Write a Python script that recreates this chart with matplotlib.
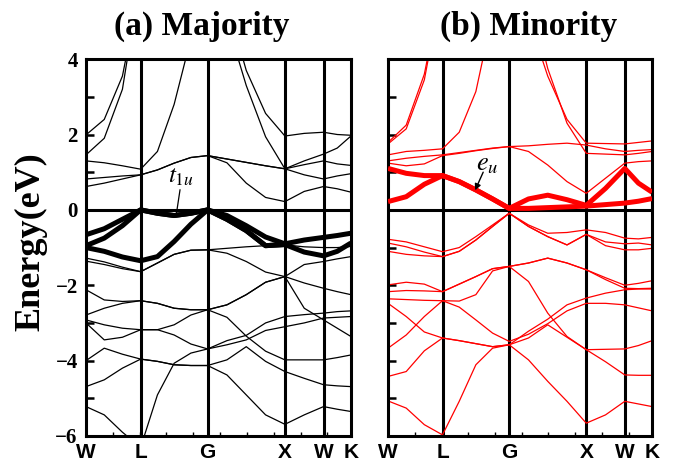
import numpy as np
import matplotlib
matplotlib.use('Agg')
import matplotlib.pyplot as plt

plt.rcParams['font.family'] = ['Liberation Serif', 'DejaVu Serif']
plt.rcParams['mathtext.fontset'] = 'stix'

nan = np.nan

# distance along the k-path of each sampled point
k = [0, 0.236, 0.471, 0.707, 0.924, 1.140, 1.357, 1.573,
     1.823, 2.073, 2.323, 2.573, 2.823, 3.073, 3.25, 3.427]
sym_k = [0, 0.707, 1.573, 2.573, 3.073, 3.427]
sym_labels = ['W', 'L', 'G', 'X', 'W', 'K']

# ---- majority spin (eV) ----
maj_u1 = [1.99, 2.4, 3.55, 6.0, 7, 7, 7, 7, 7, 7, 7, 7, 7, 7, 7, 7]
maj_u2 = [1.46, 1.9, 3.2, 6.2, 7, 7, 7, 7, 5.5, 3.7, 2.56, 1.96, 2.03, 2.06, 2.0, 1.98]
maj_u3 = [1.3, 1.25, 1.17, 1.08, 1.55, 2.8, 4.55, 7, 5.0, 3.3, 1.94, 1.09, 0.93, 0.82, 0.9, 0.96]
maj_p = [0.82, 0.86, 0.9, 0.93, 1.06, 1.24, 1.39, 1.44, 1.35, 1.26, 1.17, 1.09, 1.3, 1.48, 1.64, 1.96]
maj_q = [0.62, 0.71, 0.82, 0.93, 1.06, 1.24, 1.39, 1.44, 1.25, 0.71, 0.33, 0.22, 0.49, 0.62, 0.56, 0.47]
maj_r = [nan, nan, nan, nan, nan, nan, nan, 1.44, 1.35, 1.26, 1.17, 1.09, 1.2, 1.3, 1.22, 1.18]
maj_m1 = [-1.28, -1.38, -1.52, -1.64, -1.41, -1.18, -1.07, -1.06, -1.02, -0.98, -0.95, -0.93, -0.98, -1.0, -1.0, -0.97]
maj_m2 = [-1.36, -1.45, -1.56, -1.64, -1.41, -1.18, -1.07, -1.06, -1.15, -1.37, -1.65, -1.77, -1.45, -1.37, -1.3, -1.24]
maj_n1 = [-2.12, -2.39, -2.43, -2.41, -2.48, -2.61, -2.65, -2.65, -2.52, -2.25, -1.92, -1.77, -1.94, -2.08, -2.17, -2.25]
maj_n2 = [-2.79, -2.61, -2.48, -2.41, -2.48, -2.61, -2.65, -2.65, -2.85, -3.35, -3.75, -3.98, -3.98, -3.98, -3.92, -3.85]
maj_n3 = [-2.92, -3.05, -3.14, -3.18, -3.18, -3.05, -2.79, -2.65, -2.52, -2.25, -1.92, -1.77, -2.61, -2.92, -3.14, -3.36]
maj_n4 = [-3.0, -3.45, -3.38, -3.18, -3.18, -3.32, -3.56, -3.69, -3.47, -3.33, -3.0, -2.83, -2.78, -2.74, -2.7, -2.68]
maj_n5 = [-4.0, -3.67, -3.83, -3.96, -4.02, -4.11, -4.13, -4.13, -3.98, -3.63, -4.02, -4.29, -4.47, -4.64, -4.67, -4.69]
maj_n6 = [-4.69, -4.51, -4.2, -3.96, -4.02, -4.11, -4.13, -4.13, -4.38, -4.91, -5.44, -5.69, -5.44, -5.22, -5.29, -5.35]
maj_n7 = [-5.22, -5.44, -5.9, -6.3, -4.91, -4.07, -3.8, -3.69, -3.58, -3.45, -3.2, -3.1, -3.0, -2.87, -2.85, -2.83]
# t1u bands (thick)
maj_t1 = [-0.66, -0.5, -0.25, 0, -0.09, -0.15, -0.09, 0, -0.15, -0.42, -0.72, -0.9, -0.8, -0.73, -0.68, -0.62]
maj_t2 = [-0.95, -0.75, -0.42, 0, -0.09, -0.15, -0.09, 0, -0.25, -0.55, -0.95, -0.92, -1.12, -1.22, -1.1, -0.88]
maj_t3 = [-1.0, -1.1, -1.25, -1.35, -1.24, -0.84, -0.38, 0, -0.25, -0.55, -0.95, -0.92, nan, nan, nan, nan]

# ---- minority spin (eV) ----
min_v1 = [1.79, 2.25, 3.6, 6.0, 7, 7, 7, 7, 5.1, 3.55, 2.4, 1.77, 1.76, 1.75, 1.79, 1.83]
min_v2 = [1.75, 2.15, 3.45, 6.0, 7, 7, 7, 7, 5.8, 3.75, 2.3, 1.5, 1.48, 1.46, 1.5, 1.55]
min_v3 = [1.46, 1.55, 1.58, 1.62, 2.06, 3.14, 5.2, 7, 7, 7, 7, 7, 7, 7, 7, 7]
min_v4 = [1.3, 1.37, 1.42, 1.46, 1.52, 1.58, 1.64, 1.68, 1.7, 1.74, 1.77, 1.72, 1.62, 1.55, 1.58, 1.6]
min_v5 = [1.24, 1.17, 1.22, 1.44, 1.5, 1.57, 1.63, 1.68, 1.55, 1.19, 0.75, 0.44, 0.84, 1.24, 1.28, 1.3]
min_r1 = [-0.78, -0.85, -0.98, -1.11, -1.0, -0.71, -0.4, -0.09, -0.4, -0.62, -0.6, -0.53, -0.6, -0.75, -0.77, -0.73]
min_r2 = [-0.88, -0.98, -1.12, -1.24, -1.1, -0.8, -0.44, -0.09, -0.44, -0.71, -0.93, -0.65, -0.85, -0.9, -0.88, -0.93]
min_r3 = [-1.1, -1.18, -1.22, -1.24, -1.1, -0.8, -0.44, -0.09, -0.44, -0.71, -0.93, -0.65, -0.95, -1.06, -1.06, -1.02]
min_s1 = [-1.99, -1.92, -1.97, -2.17, -1.97, -1.77, -1.56, -1.5, -1.41, -1.28, -1.41, -1.59, -1.8, -2.0, -1.95, -1.88]
min_s2 = [-2.17, -2.14, -2.15, -2.17, -1.97, -1.77, -1.56, -1.5, -1.9, -2.74, -3.36, -3.71, -3.7, -3.69, -3.6, -3.47]
min_s3 = [-2.36, -2.38, -2.4, -2.41, -2.42, -2.25, -1.62, -1.5, -1.41, -1.28, -1.41, -1.59, -1.85, -2.08, -2.09, -2.08]
min_s4 = [-2.48, -2.83, -3.24, -3.4, -3.47, -3.55, -3.63, -3.58, -3.22, -2.9, -2.52, -2.34, -2.21, -2.12, -2.1, -2.1]
min_s5 = [-3.67, -3.32, -2.83, -2.41, -2.58, -2.92, -3.27, -3.49, -3.3, -3.02, -2.68, -2.48, -2.48, -2.52, -2.6, -2.68]
min_s6 = [-4.42, -4.29, -3.74, -3.4, -3.47, -3.55, -3.63, -3.58, -3.4, -3.05, -3.38, -3.71, -4.03, -4.38, -4.39, -4.39]
min_s7 = [-5.07, -5.26, -5.7, -5.97, -5.08, -4.11, -3.67, -3.58, -3.98, -4.55, -5.08, -5.66, -5.44, -5.08, -5.15, -5.22]
# eu bands (thick)
min_e1 = [1.1, 0.97, 0.91, 0.91, 0.75, 0.53, 0.29, 0.04, 0.29, 0.39, 0.27, 0.12, 0.57, 1.1, 0.71, 0.47]
min_e2 = [0.22, 0.35, 0.68, 0.91, 0.75, 0.53, 0.29, 0.04, 0.04, 0.06, 0.08, 0.1, 0.14, 0.18, 0.23, 0.3]

maj_thin = [maj_u1, maj_u2, maj_u3, maj_p, maj_q, maj_r, maj_m1, maj_m2,
            maj_n1, maj_n2, maj_n3, maj_n4, maj_n5, maj_n6, maj_n7]
maj_thick = [maj_t1, maj_t2, maj_t3]
min_thin = [min_v1, min_v2, min_v3, min_v4, min_v5, min_r1, min_r2, min_r3,
            min_s1, min_s2, min_s3, min_s4, min_s5, min_s6, min_s7]
min_thick = [min_e1, min_e2]

fig = plt.figure(figsize=(6.81, 4.69), dpi=100)
ax1 = fig.add_axes([0.1263, 0.0704, 0.389, 0.8035])
ax2 = fig.add_axes([0.5698, 0.0704, 0.3877, 0.8035])


def setup(ax, color, thin, thick, show_y):
    for xs in sym_k[1:-1]:
        ax.axvline(xs, color='black', lw=2.2, zorder=1)
    ax.axhline(0, color='black', lw=2.2, zorder=1)
    for band in thin:
        ax.plot(k, band, color=color, lw=0.9, zorder=2)
    for band in thick:
        ax.plot(k, band, color=color, lw=3.6, zorder=3, solid_capstyle='butt')
    ax.set_xlim(0, sym_k[-1])
    ax.set_ylim(-6, 4)
    ax.set_xticks(sym_k)
    ax.set_xticklabels(sym_labels, fontfamily='Liberation Sans',
                       fontweight='bold', fontsize=15)
    ax.set_xticks(np.arange(0.347, 3.4, 0.347), minor=True)
    ax.set_yticks([4, 2, 0, -2, -4, -6])
    ax.set_yticks([3, 1, -1, -3, -5], minor=True)
    ax.tick_params(axis='x', which='major', length=0, pad=5)
    ax.tick_params(axis='x', which='minor', direction='in', length=3, width=1)
    ax.tick_params(axis='y', which='both', direction='in', length=6,
                   width=1.8, pad=6, labelsize=15, labelleft=show_y)
    for lab in ax.get_yticklabels():
        lab.set_fontweight('bold')
    for sp in ax.spines.values():
        sp.set_linewidth(2.2)


setup(ax1, 'black', maj_thin, maj_thick, True)
setup(ax2, 'red', min_thin, min_thick, False)

# labels of the highlighted bands
ax1.text(1.06, 0.72, '$t_{1u}$', fontsize=18, ha='left', va='baseline')
ax1.plot([1.216, 1.171], [0.53, -0.08], color='black', lw=0.9, zorder=4)
ax2.text(1.14, 1.06, '$e_u$', fontsize=19, ha='left', va='baseline')
ax2.annotate('', xy=(1.13, 0.52), xytext=(1.235, 1.0),
             arrowprops=dict(arrowstyle='-|>', color='black', lw=1.0,
                             mutation_scale=9, shrinkA=0, shrinkB=0),
             zorder=5)

fig.text(202 / 681, 1 - 35 / 469, '(a) Majority', ha='center', va='baseline',
         fontsize=24, fontweight='bold')
fig.text(529 / 681, 1 - 35 / 469, '(b) Minority', ha='center', va='baseline',
         fontsize=24, fontweight='bold')
fig.text(31 / 681, 1 - 242 / 469, 'Energy(eV)', rotation=90, ha='center',
         va='center', fontsize=26, fontweight='bold')

fig.savefig('out.png', dpi=100)
